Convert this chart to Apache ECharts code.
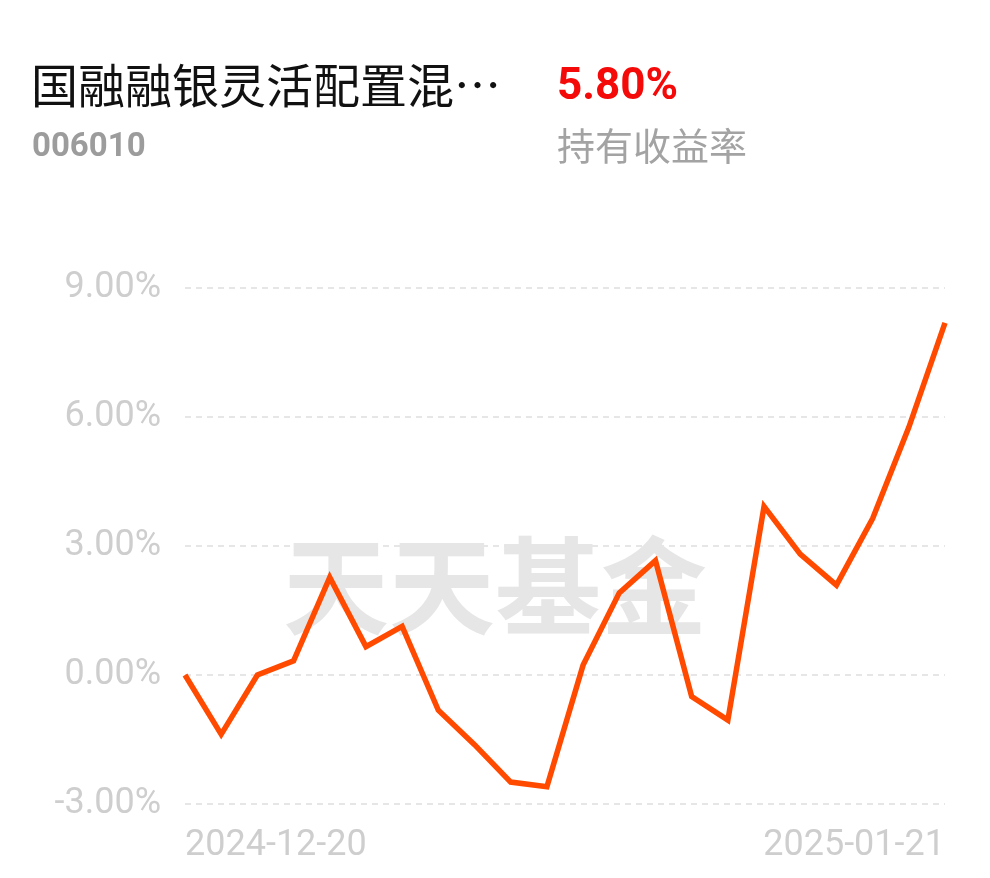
<!DOCTYPE html>
<html>
<head>
<meta charset="utf-8">
<script src="https://cdn.jsdelivr.net/npm/echarts@6/dist/echarts.min.js"></script>
<style>
html,body{margin:0;padding:0;background:#fff;}
#chart{width:990px;height:878px;}
</style>
</head>
<body>
<div id="chart"></div>
<script>
var fundName = '国融融银灵活配置混…';
var fundCode = '006010';
var holdReturn = '5.80%';
var holdReturnLabel = '持有收益率';
var watermark = '天天基金';
var dates = ['2024-12-20','2024-12-23','2024-12-24','2024-12-25','2024-12-26','2024-12-27','2024-12-30','2024-12-31',
  '2025-01-02','2025-01-03','2025-01-06','2025-01-07','2025-01-08','2025-01-09','2025-01-10','2025-01-13',
  '2025-01-14','2025-01-15','2025-01-16','2025-01-17','2025-01-20','2025-01-21'];
var values = [0.00, -1.38, 0.00, 0.33, 2.27, 0.66, 1.13, -0.82, -1.62, -2.49, -2.60,
  0.23, 1.91, 2.66, -0.50, -1.05, 3.92, 2.81, 2.09, 3.64, 5.76, 8.19];
var yTicks = [-3, 0, 3, 6, 9];

var chart = echarts.init(document.getElementById('chart'), null, {renderer: 'canvas'});
var last = dates.length - 1;
chart.setOption({
  backgroundColor: '#fff',
  animation: false,
  title: [
    {text: fundName, left: 31, top: 62, padding: 0, textStyle: {fontFamily: 'Noto Sans CJK SC', fontSize: 47, fontWeight: 'normal', color: '#111'}},
    {text: fundCode, left: 32, top: 131, padding: 0, textStyle: {fontFamily: 'Roboto', fontSize: 33, fontWeight: 'bold', color: '#9c9c9c'}},
    {text: holdReturn, left: 557, top: 66, padding: 0, textStyle: {fontFamily: 'Roboto', fontSize: 44, fontWeight: 'bold', color: '#f50a0a'}},
    {text: holdReturnLabel, left: 557, top: 127, padding: 0, textStyle: {fontFamily: 'Noto Sans CJK SC', fontSize: 38, fontWeight: 'normal', color: '#a3a3a3'}}
  ],
  graphic: [{
    type: 'text', left: 283, top: 533, z: 0, silent: true,
    style: {text: watermark, fill: '#e6e6e6', font: 'bold 106px "Noto Sans CJK SC"'}
  }],
  grid: {left: 185, right: 45, top: 288, bottom: 74, containLabel: false},
  xAxis: {
    type: 'category', data: dates, boundaryGap: false,
    axisLine: {show: false}, axisTick: {show: false},
    axisLabel: {
      interval: function (i) { return i === 0 || i === last; },
      showMinLabel: true, showMaxLabel: true,
      alignMinLabel: 'left', alignMaxLabel: 'right',
      color: '#cecece', fontFamily: 'Roboto', fontSize: 36, margin: 24
    },
    splitLine: {show: false}
  },
  yAxis: {
    type: 'value', min: yTicks[0], max: yTicks[yTicks.length - 1], interval: 3,
    axisLine: {show: false}, axisTick: {show: false},
    axisLabel: {formatter: function (v) { return v.toFixed(2) + '%'; }, color: '#cecece', fontFamily: 'Roboto', fontSize: 36, margin: 24, padding: [6, 0, 0, 0]},
    splitLine: {show: true, lineStyle: {color: '#e6e6e6', width: 2, type: [6, 5]}}
  },
  series: [{
    type: 'line', data: values, symbol: 'none', z: 5,
    lineStyle: {color: '#ff4a00', width: 5.5, join: 'miter'}
  }]
});
</script>
</body>
</html>
